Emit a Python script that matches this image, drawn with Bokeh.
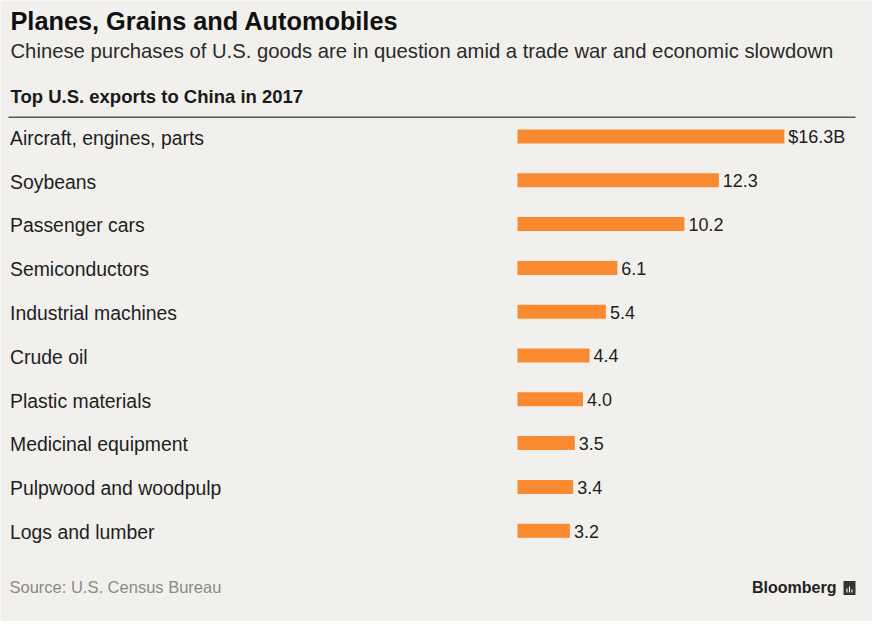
from bokeh.plotting import figure
from bokeh.models import Range1d, Label, ColumnDataSource
from bokeh.core.properties import value
from bokeh.embed import file_html
from bokeh.resources import INLINE

# ---- data ----
categories = ["Aircraft, engines, parts", "Soybeans", "Passenger cars", "Semiconductors",
              "Industrial machines", "Crude oil", "Plastic materials", "Medicinal equipment",
              "Pulpwood and woodpulp", "Logs and lumber"]
values = [16.3, 12.3, 10.2, 6.1, 5.4, 4.4, 4.0, 3.5, 3.4, 3.2]
value_labels = ["$16.3B", "12.3", "10.2", "6.1", "5.4", "4.4", "4.0", "3.5", "3.4", "3.2"]

title = "Planes, Grains and Automobiles"
subtitle = "Chinese purchases of U.S. goods are in question amid a trade war and economic slowdown"
header = "Top U.S. exports to China in 2017"
source_txt = "Source: U.S. Census Bureau"
brand = "Bloomberg"

# ---- layout (picture pixels) ----
W, H = 872, 621
X0 = 517.0        # x of value 0
PXU = 16.37       # px per unit
Y0 = 136.0        # y of first bar center
ROW = 43.8        # px per row
K = 0.4           # baseline correction factor (fraction of font size)

def X(px):
    return px / PXU - X0 / PXU

def Y(py):
    return (py - Y0) / ROW

FONT = "Liberation Sans"
BG = "#f1f0ec"

p = figure(width=W, height=H, output_backend="svg", toolbar_location=None,
           x_range=Range1d(X(0), X(W)),
           y_range=Range1d(Y(H), Y(0)),
           min_border=0, background_fill_color=BG, border_fill_color=BG)
p.axis.visible = False
p.grid.visible = False
p.outline_line_color = None

idx = list(range(len(categories)))
src = ColumnDataSource(dict(y=idx, v=values, cat=categories, lab=value_labels))

p.hbar(y="y", left=0, right="v", height=14 / ROW, source=src,
       fill_color="#f98a2f", line_color=None)

p.text(x=X(9.5), y="y", text="cat", source=src, y_offset=9 - K * 19.4,
       text_font=value(FONT), text_font_size="19.4px", text_color="#1e1e1e",
       text_baseline="alphabetic", text_align="left")

p.text(x="v", y="y", text="lab", source=src, x_offset=4, y_offset=7.5 - K * 18,
       text_font=value(FONT), text_font_size="18px", text_color="#1e1e1e",
       text_baseline="alphabetic", text_align="left")

# rule under header
p.line(x=[X(8), X(855)], y=[Y(116.7), Y(116.7)], line_color="#555555", line_width=1.4)

def lab(txt, px, py, size, color, style="normal", align="left"):
    py = py - K * size
    p.add_layout(Label(x=X(px), y=Y(py), text=txt, text_font=FONT,
                       text_font_size=f"{size}px", text_color=color, text_font_style=style,
                       text_baseline="alphabetic", text_align=align))

lab(title, 10, 31, 25.3, "#111111", "bold")
lab(subtitle, 10, 58.3, 20.25, "#2a2a2a")
lab(header, 10, 103.3, 18.5, "#1a1a1a", "bold")
lab(source_txt, 9, 593.3, 16.5, "#8a8a8a")
lab(brand, 836, 593, 16, "#222222", "bold", "right")

# small brand icon
p.rect(x=[X(849)], y=[Y(587.5)], width=12 / PXU, height=14 / ROW,
       fill_color="#333333", line_color=None)
p.rect(x=[X(846.5), X(849), X(851.5)], y=[Y(590), Y(589), Y(590.5)],
       width=1.2 / PXU, height=[4 / ROW, 6 / ROW, 3 / ROW],
       fill_color="#f1f0ec", line_color=None)

open("out.html", "w").write(file_html(p, INLINE))
